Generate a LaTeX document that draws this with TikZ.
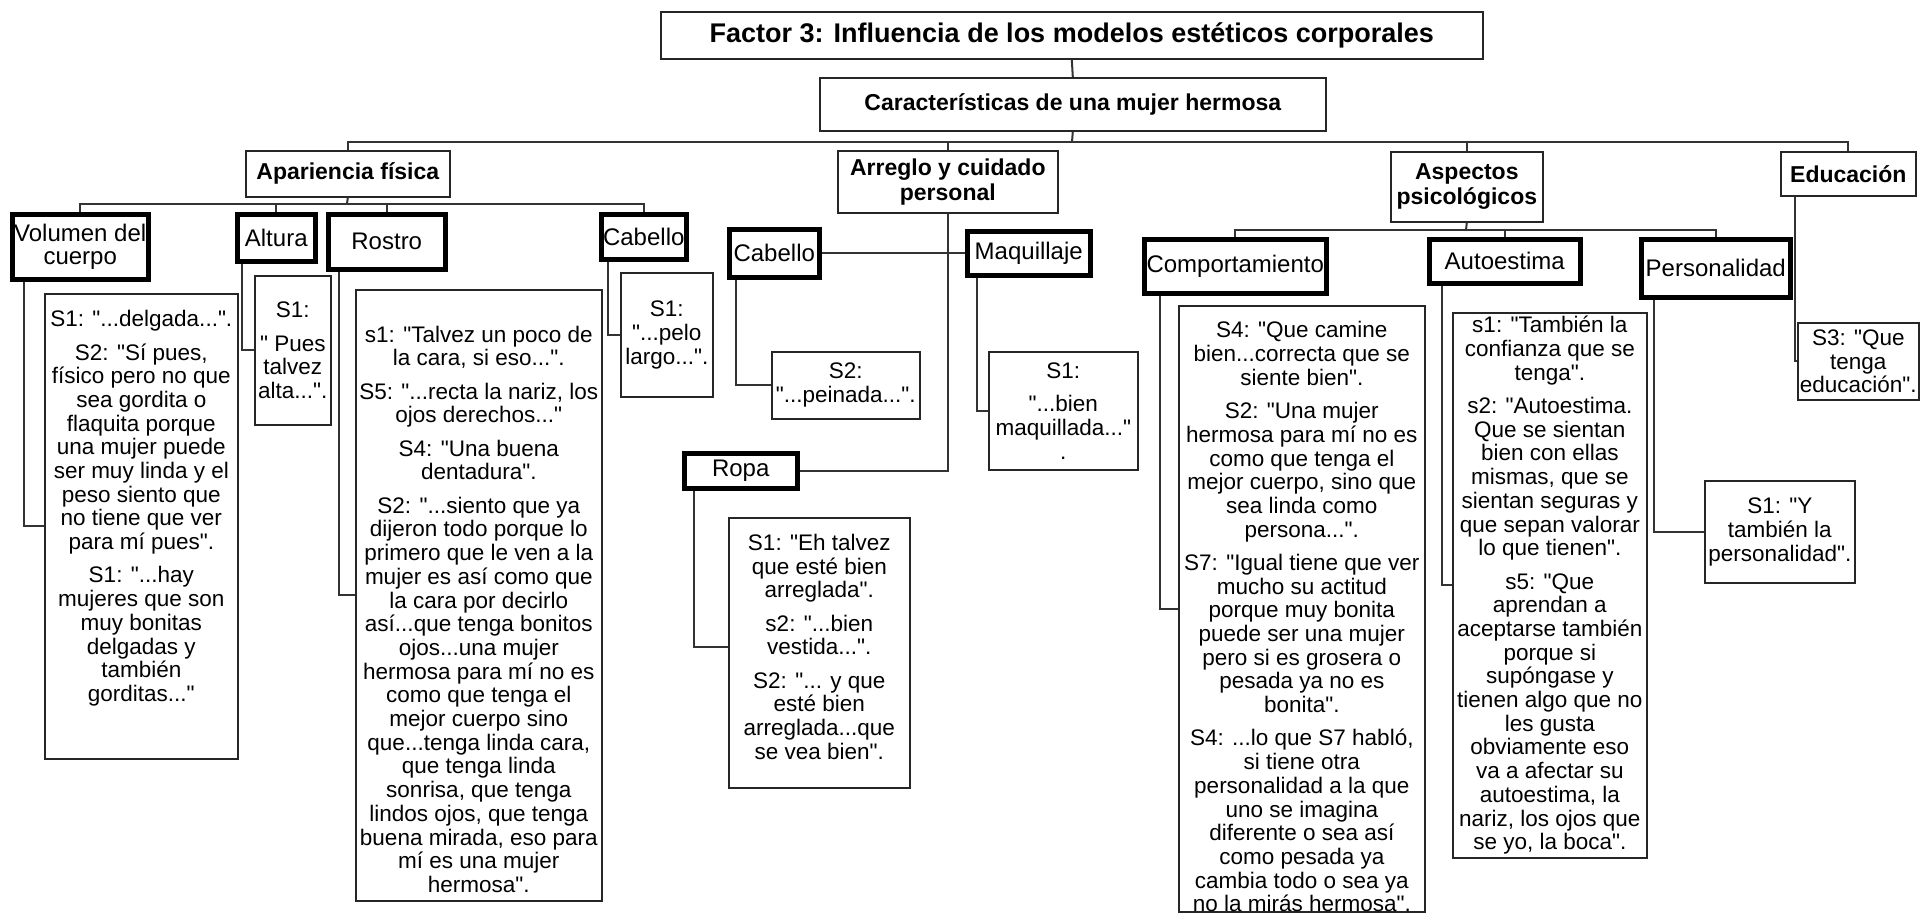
\documentclass[tikz,border=0pt]{standalone}
\usepackage{fontspec}
\newfontfamily\lsans{Liberation Sans}
\begin{document}
\begin{tikzpicture}[x=1pt,y=-1pt,
  sz/.style 2 args={minimum width=#1, minimum height=#2},
  titlebox/.style={draw=black!85, line width=1.6pt, fill=white, inner sep=1pt, align=center, anchor=north west,
    font=\lsans\bfseries\fontsize{27}{30}\selectfont},
  headbox/.style={draw=black!85, line width=1.6pt, fill=white, inner sep=1pt, align=center, anchor=north west,
    font=\lsans\bfseries\fontsize{23}{25}\selectfont},
  catbox/.style={draw=black, line width=4.5pt, fill=white, inner sep=1pt, align=center, anchor=north west,
    font=\lsans\fontsize{24}{23}\selectfont},
  quotebox/.style={draw=black!85, line width=1.6pt, fill=white, inner sep=0pt, anchor=north west},
  body/.style={inner sep=0pt, align=center, font=\lsans\fontsize{22.5}{23.7}\selectfont},
  link/.style={draw=black!80, line width=2pt}
]
\fill[white] (0,0) rectangle (1921,914);
\useasboundingbox (0,0) rectangle (1921,914);

% ---------- top levels ----------
\node[titlebox, sz={822pt}{47pt}] (title) at (660,11) {Factor 3: Influencia de los modelos estéticos corporales};
\node[headbox, sz={506pt}{53pt}] (car) at (819,77) {Características de una mujer hermosa};

\node[headbox, sz={204pt}{46pt}] (apa) at (245,150) {Apariencia física};
\node[headbox, sz={220pt}{62pt}] (arr) at (837,150) {Arreglo y cuidado\\personal};
\node[headbox, sz={152pt}{70pt}] (asp) at (1390,151) {Aspectos\\psicológicos};
\node[headbox, sz={135pt}{44pt}] (edu) at (1780,151) {Educación};

% ---------- categories ----------
\node[catbox, sz={136pt}{65pt}] (vol) at (10,212) {Volumen del\\cuerpo};
\node[catbox, sz={78pt}{47pt}] (alt) at (235,212) {Altura};
\node[catbox, sz={117pt}{55pt}] (ros) at (326,212) {Rostro};
\node[catbox, sz={85pt}{45pt}] (cab) at (599,212) {Cabello};
\node[catbox, sz={90pt}{48pt}] (cabb) at (727,227) {Cabello};
\node[catbox, sz={123pt}{44pt}] (maq) at (965,229) {Maquillaje};
\node[catbox, sz={113pt}{35pt}] (ropa) at (682,451) {Ropa};
\node[catbox, sz={182pt}{54pt}] (comp) at (1142,237) {Comportamiento};
\node[catbox, sz={151pt}{44pt}] (auto) at (1427,237) {Autoestima};
\node[catbox, sz={149pt}{58pt}] (pers) at (1639,237) {Personalidad};

% ---------- quotation boxes ----------
\node[quotebox, sz={193pt}{465pt}] (volT) at (44,293) {};
\node[quotebox, sz={76pt}{149pt}] (altT) at (254,275) {};
\node[quotebox, sz={246pt}{611pt}] (rosT) at (355,289) {};
\node[quotebox, sz={92pt}{124pt}] (cabT) at (620,272) {};
\node[quotebox, sz={148pt}{67pt}] (peiT) at (771,351) {};
\node[quotebox, sz={149pt}{118pt}] (maqT) at (988,351) {};
\node[quotebox, sz={181pt}{270pt}] (ropaT) at (728,517) {};
\node[quotebox, sz={246pt}{606pt}] (compT) at (1178,305) {};
\node[quotebox, sz={194pt}{545pt}] (autoT) at (1452,312) {};
\node[quotebox, sz={150pt}{102pt}] (persT) at (1704,480) {};
\node[quotebox, sz={121pt}{77pt}] (eduT) at (1797,322) {};

\node[body] (volX) at ([yshift=18pt]volT.center) {S1: "...delgada...".\\[9.6pt]
S2: "Sí pues,\\físico pero no que\\sea gordita o\\flaquita porque\\una mujer puede\\ser muy linda y el\\peso siento que\\no tiene que ver\\para mí pues".\\[9.6pt]
S1: "...hay\\mujeres que son\\muy bonitas\\delgadas y\\también\\gorditas..."};

\node[body] (altX) at (altT.center) {S1:\\[9.6pt]" Pues\\talvez\\alta...".};

\node[body] (rosX) at ([yshift=-14pt]rosT.center) {s1: "Talvez un poco de\\la cara, si eso...".\\[9.6pt]
S5: "...recta la nariz, los\\ojos derechos..."\\[9.6pt]
S4: "Una buena\\dentadura".\\[9.6pt]
S2: "...siento que ya\\dijeron todo porque lo\\primero que le ven a la\\mujer es así como que\\la cara por decirlo\\así...que tenga bonitos\\ojos...una mujer\\hermosa para mí no es\\como que tenga el\\mejor cuerpo sino\\que...tenga linda cara,\\que tenga linda\\sonrisa, que tenga\\lindos ojos, que tenga\\buena mirada, eso para\\mí es una mujer\\hermosa".};

\node[body] (cabX) at (cabT.center) {S1:\\"...pelo\\largo...".};
\node[body] (peiX) at (peiT.center) {S2:\\"...peinada...".};
\node[body] (maqX) at (maqT.center) {S1:\\[9.6pt]"...bien\\maquillada..."\\.};

\node[body] (ropaX) at ([yshift=6pt]ropaT.center) {S1: "Eh talvez\\que esté bien\\arreglada".\\[9.6pt]
s2: "...bien\\vestida...".\\[9.6pt]
S2: "... y que\\esté bien\\arreglada...que\\se vea bien".};

\node[body] (compX) at ([yshift=-8pt]compT.center) {S4: "Que camine\\bien...correcta que se\\siente bien".\\[9.6pt]
S2: "Una mujer\\hermosa para mí no es\\como que tenga el\\mejor cuerpo, sino que\\sea linda como\\persona...".\\[9.6pt]
S7: "Igual tiene que ver\\mucho su actitud\\porque muy bonita\\puede ser una mujer\\pero si es grosera o\\pesada ya no es\\bonita".\\[9.6pt]
S4: ...lo que S7 habló,\\si tiene otra\\personalidad a la que\\uno se imagina\\diferente o sea así\\como pesada ya\\cambia todo o sea ya\\no la mirás hermosa".};

\node[body] (autoX) at (autoT.center) {s1: "También la\\confianza que se\\tenga".\\[9.6pt]
s2: "Autoestima.\\Que se sientan\\bien con ellas\\mismas, que se\\sientan seguras y\\que sepan valorar\\lo que tienen".\\[9.6pt]
s5: "Que\\aprendan a\\aceptarse también\\porque si\\supóngase y\\tienen algo que no\\les gusta\\obviamente eso\\va a afectar su\\autoestima, la\\nariz, los ojos que\\se yo, la boca".};

\node[body] (persX) at (persT.center) {S1: "Y\\también la\\personalidad".};
\node[body] (eduX) at (eduT.center) {S3: "Que\\tenga\\educación".};

% ---------- connectors ----------
\coordinate (b1) at (1072,142);
\coordinate (b2) at (347,204);
\coordinate (b3) at (1466,230);

\draw[link] (title.south) -- (car.north);
\draw[link] (car.south) -- (b1);
\draw[link] (apa.north) |- (b1);
\draw[link] (arr.north) |- (b1);
\draw[link] (asp.north) |- (b1);
\draw[link] (edu.north) |- (b1);

\draw[link] (apa.south) -- (b2);
\draw[link] (vol.north) |- (b2);
\draw[link] (alt.north) |- (b2);
\draw[link] (ros.north) |- (b2);
\draw[link] (cab.north) |- (b2);

\draw[link] (asp.south) -- (b3);
\draw[link] (comp.north) |- (b3);
\draw[link] (auto.north) |- (b3);
\draw[link] (pers.north) |- (b3);

\draw[link] (arr.south) |- (ropa.east);
\draw[link] (cabb.east) -- (maq.west);

\draw[link] ([xshift=14pt]vol.south west) |- (volT.west);
\draw[link] ([xshift=7pt]alt.south west) |- (altT.west);
\draw[link] ([xshift=13pt]ros.south west) |- (rosT.west);
\draw[link] ([xshift=9pt]cab.south west) |- (cabT.west);
\draw[link] ([xshift=9pt]cabb.south west) |- (peiT.west);
\draw[link] ([xshift=12pt]maq.south west) |- (maqT.west);
\draw[link] ([xshift=12pt]ropa.south west) |- ([yshift=6pt]ropaT.west);
\draw[link] ([xshift=18pt]comp.south west) |- (compT.west);
\draw[link] ([xshift=15pt]auto.south west) |- (autoT.west);
\draw[link] ([xshift=15pt]pers.south west) |- (persT.west);
\draw[link] ([xshift=15pt]edu.south west) |- (eduT.west);
\end{tikzpicture}
\end{document}
